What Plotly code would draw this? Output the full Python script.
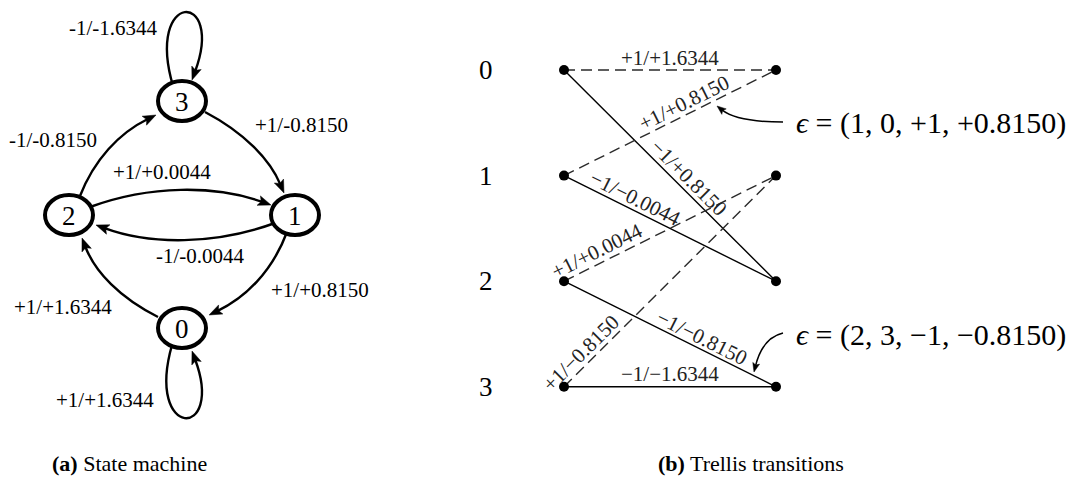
import math
import plotly.graph_objects as go

# ---------------- data ----------------
states = [0, 1, 2, 3]

# state machine transitions, with the labels written on each arc
sm_from = [3, 3, 2, 2, 1, 1, 0, 0]
sm_to = [3, 1, 3, 1, 2, 0, 2, 0]
sm_labels = ["-1/-1.6344", "+1/-0.8150", "-1/-0.8150", "+1/+0.0044",
             "-1/-0.0044", "+1/+0.8150", "+1/+1.6344", "+1/+1.6344"]

# trellis transitions: (from state, to state, input bit, output value)
tr_from = [0, 0, 1, 1, 2, 2, 3, 3]
tr_to = [0, 2, 0, 2, 1, 3, 1, 3]
tr_input = [1, -1, 1, -1, 1, -1, 1, -1]
tr_output = [1.6344, 0.8150, 0.8150, -0.0044, 0.0044, -0.8150, -0.8150, -1.6344]
highlighted = [2, 5]  # transitions called out with their epsilon tuple

captions = ["<b>(a)</b> State machine", "<b>(b)</b> Trellis transitions"]

# ---------------- layout geometry ----------------
W, H = 1074, 482
FONT = "'Liberation Serif', 'Times New Roman', 'DejaVu Serif', serif"

SM_POS = {3: (182, 101), 2: (69, 215), 1: (295, 215), 0: (182, 328)}
NODE_RX, NODE_RY = 24, 20
# cubic Bezier control points of each state-machine arc (same order as sm_from)
SM_CURVES = [
    [(173, 86), (145, -10), (225, -10), (192, 80)],
    [(205, 112), (245, 133), (270, 160), (284, 193)],
    [(80, 196), (94, 160), (119, 133), (156, 115)],
    [(90, 207), (150, 185), (215, 185), (271, 205)],
    [(275, 223), (215, 245), (150, 245), (96, 225)],
    [(287, 232), (272, 272), (245, 298), (209, 315)],
    [(158, 317), (120, 298), (95, 272), (82, 238)],
    [(172, 345), (145, 440), (225, 440), (192, 351)],
]
SM_LABEL_XY = [(113, 28), (301, 125), (53, 140), (162, 172),
               (200, 256), (320, 290), (63, 307), (105, 400)]

TR_X0, TR_X1 = 564, 776
TR_Y0, TR_DY = 70, 105.6
TR_STATE_LABEL_X = 486
# label position along each trellis edge (fraction) and offset above it (px)
TR_LABEL_T = [0.5, 0.55, 0.59, 0.31, 0.18, 0.63, 0.12, 0.5]
TR_LABEL_D = [12, 12, 12, 11, 12, 11, 12, 13]

EPS_TEXT_XY = [(794, 123), (794, 335)]
EPS_ARROWS = [
    [(783, 122), (750, 122), (732, 118), (717, 106)],
    [(783, 333), (766, 337), (759, 352), (754, 372)],
]
CAPTION_XY = [(129, 463), (751, 463)]


def tr_y(s):
    return TR_Y0 + TR_DY * s


def sign_str(v, minus):
    return ("+" if v >= 0 else minus)


def fmt_tr(inp, out):
    return f"{sign_str(inp, '−')}{abs(inp)}/{sign_str(out, '−')}{abs(out):.4f}"


def arrowhead(tip, frm, length, width):
    dx, dy = tip[0] - frm[0], tip[1] - frm[1]
    n = math.hypot(dx, dy)
    ux, uy = dx / n, dy / n
    px, py = -uy, ux
    bx, by = tip[0] - length * ux, tip[1] - length * uy
    nx, ny = tip[0] - 0.8 * length * ux, tip[1] - 0.8 * length * uy
    pts = [tip, (bx + px * width / 2, by + py * width / 2), (nx, ny),
           (bx - px * width / 2, by - py * width / 2)]
    path = "M " + " L ".join(f"{x:.2f},{y:.2f}" for x, y in pts) + " Z"
    return path, (ux, uy)


def curve_with_head(ctrl, lw, head_len, head_w):
    p0, p1, p2, p3 = ctrl
    head, (ux, uy) = arrowhead(p3, p2, head_len, head_w)
    end = (p3[0] - 0.7 * head_len * ux, p3[1] - 0.7 * head_len * uy)
    path = (f"M {p0[0]},{p0[1]} C {p1[0]},{p1[1]} {p2[0]},{p2[1]} "
            f"{end[0]:.2f},{end[1]:.2f}")
    return [
        dict(type="path", path=path, line=dict(color="black", width=lw),
             fillcolor="rgba(0,0,0,0)", layer="above"),
        dict(type="path", path=head, line=dict(color="black", width=0.5),
             fillcolor="black", layer="above"),
    ]


fig = go.Figure()
shapes = []
annotations = []

# ---------------- (a) state machine ----------------
for i, lab in enumerate(sm_labels):
    shapes += curve_with_head(SM_CURVES[i], 2.4, 13, 10)
    x, y = SM_LABEL_XY[i]
    annotations.append(dict(x=x, y=y, text=lab, showarrow=False,
                            font=dict(family=FONT, size=21, color="black")))

for s in states:
    cx, cy = SM_POS[s]
    shapes.append(dict(type="circle", x0=cx - NODE_RX, x1=cx + NODE_RX,
                       y0=cy - NODE_RY, y1=cy + NODE_RY,
                       line=dict(color="black", width=4), fillcolor="white",
                       layer="above"))
    annotations.append(dict(x=cx, y=cy + 1, text=str(s), showarrow=False,
                            font=dict(family=FONT, size=27, color="black")))

# ---------------- (b) trellis ----------------
for i in range(len(tr_from)):
    x0, y0 = TR_X0, tr_y(tr_from[i])
    x1, y1 = TR_X1, tr_y(tr_to[i])
    dashed = tr_input[i] > 0
    fig.add_trace(go.Scatter(
        x=[x0, x1], y=[y0, y1], mode="lines", hoverinfo="skip",
        line=dict(color="#2a2a2a" if dashed else "black", width=1.4,
                  dash="11px,6px" if dashed else "solid")))
    L = math.hypot(x1 - x0, y1 - y0)
    ux, uy = (x1 - x0) / L, (y1 - y0) / L
    nx, ny = uy, -ux
    t, d = TR_LABEL_T[i], TR_LABEL_D[i]
    lx = x0 + t * (x1 - x0) + d * nx
    ly = y0 + t * (y1 - y0) + d * ny
    annotations.append(dict(
        x=lx, y=ly, text=fmt_tr(tr_input[i], tr_output[i]), showarrow=False,
        textangle=math.degrees(math.atan2(y1 - y0, x1 - x0)),
        font=dict(family=FONT, size=21, color="#222")))

fig.add_trace(go.Scatter(
    x=[TR_X0] * len(states) + [TR_X1] * len(states),
    y=[tr_y(s) for s in states] * 2, mode="markers", hoverinfo="skip",
    marker=dict(size=10, color="black")))

for s in states:
    annotations.append(dict(x=TR_STATE_LABEL_X, y=tr_y(s), text=str(s),
                            showarrow=False,
                            font=dict(family=FONT, size=27, color="black")))

for k, idx in enumerate(highlighted):
    x, y = EPS_TEXT_XY[k]
    txt = (f"<i>ϵ</i> = ({tr_from[idx]}, {tr_to[idx]}, "
           f"{sign_str(tr_input[idx], '−')}{abs(tr_input[idx])}, "
           f"{sign_str(tr_output[idx], '−')}{abs(tr_output[idx]):.4f})")
    annotations.append(dict(x=x, y=y, text=txt, showarrow=False,
                            xanchor="left",
                            font=dict(family=FONT, size=30, color="black")))
    shapes += curve_with_head(EPS_ARROWS[k], 1.5, 9, 7)

for (x, y), cap in zip(CAPTION_XY, captions):
    annotations.append(dict(x=x, y=y, text=cap, showarrow=False,
                            font=dict(family=FONT, size=22, color="black")))

fig.update_layout(
    width=W, height=H, margin=dict(l=0, r=0, t=0, b=0),
    paper_bgcolor="white", plot_bgcolor="white", showlegend=False,
    font=dict(family=FONT),
    xaxis=dict(range=[0, W], visible=False, fixedrange=True),
    yaxis=dict(range=[H, 0], visible=False, fixedrange=True),
    shapes=shapes, annotations=annotations,
)
fig.write_html("out.html")
